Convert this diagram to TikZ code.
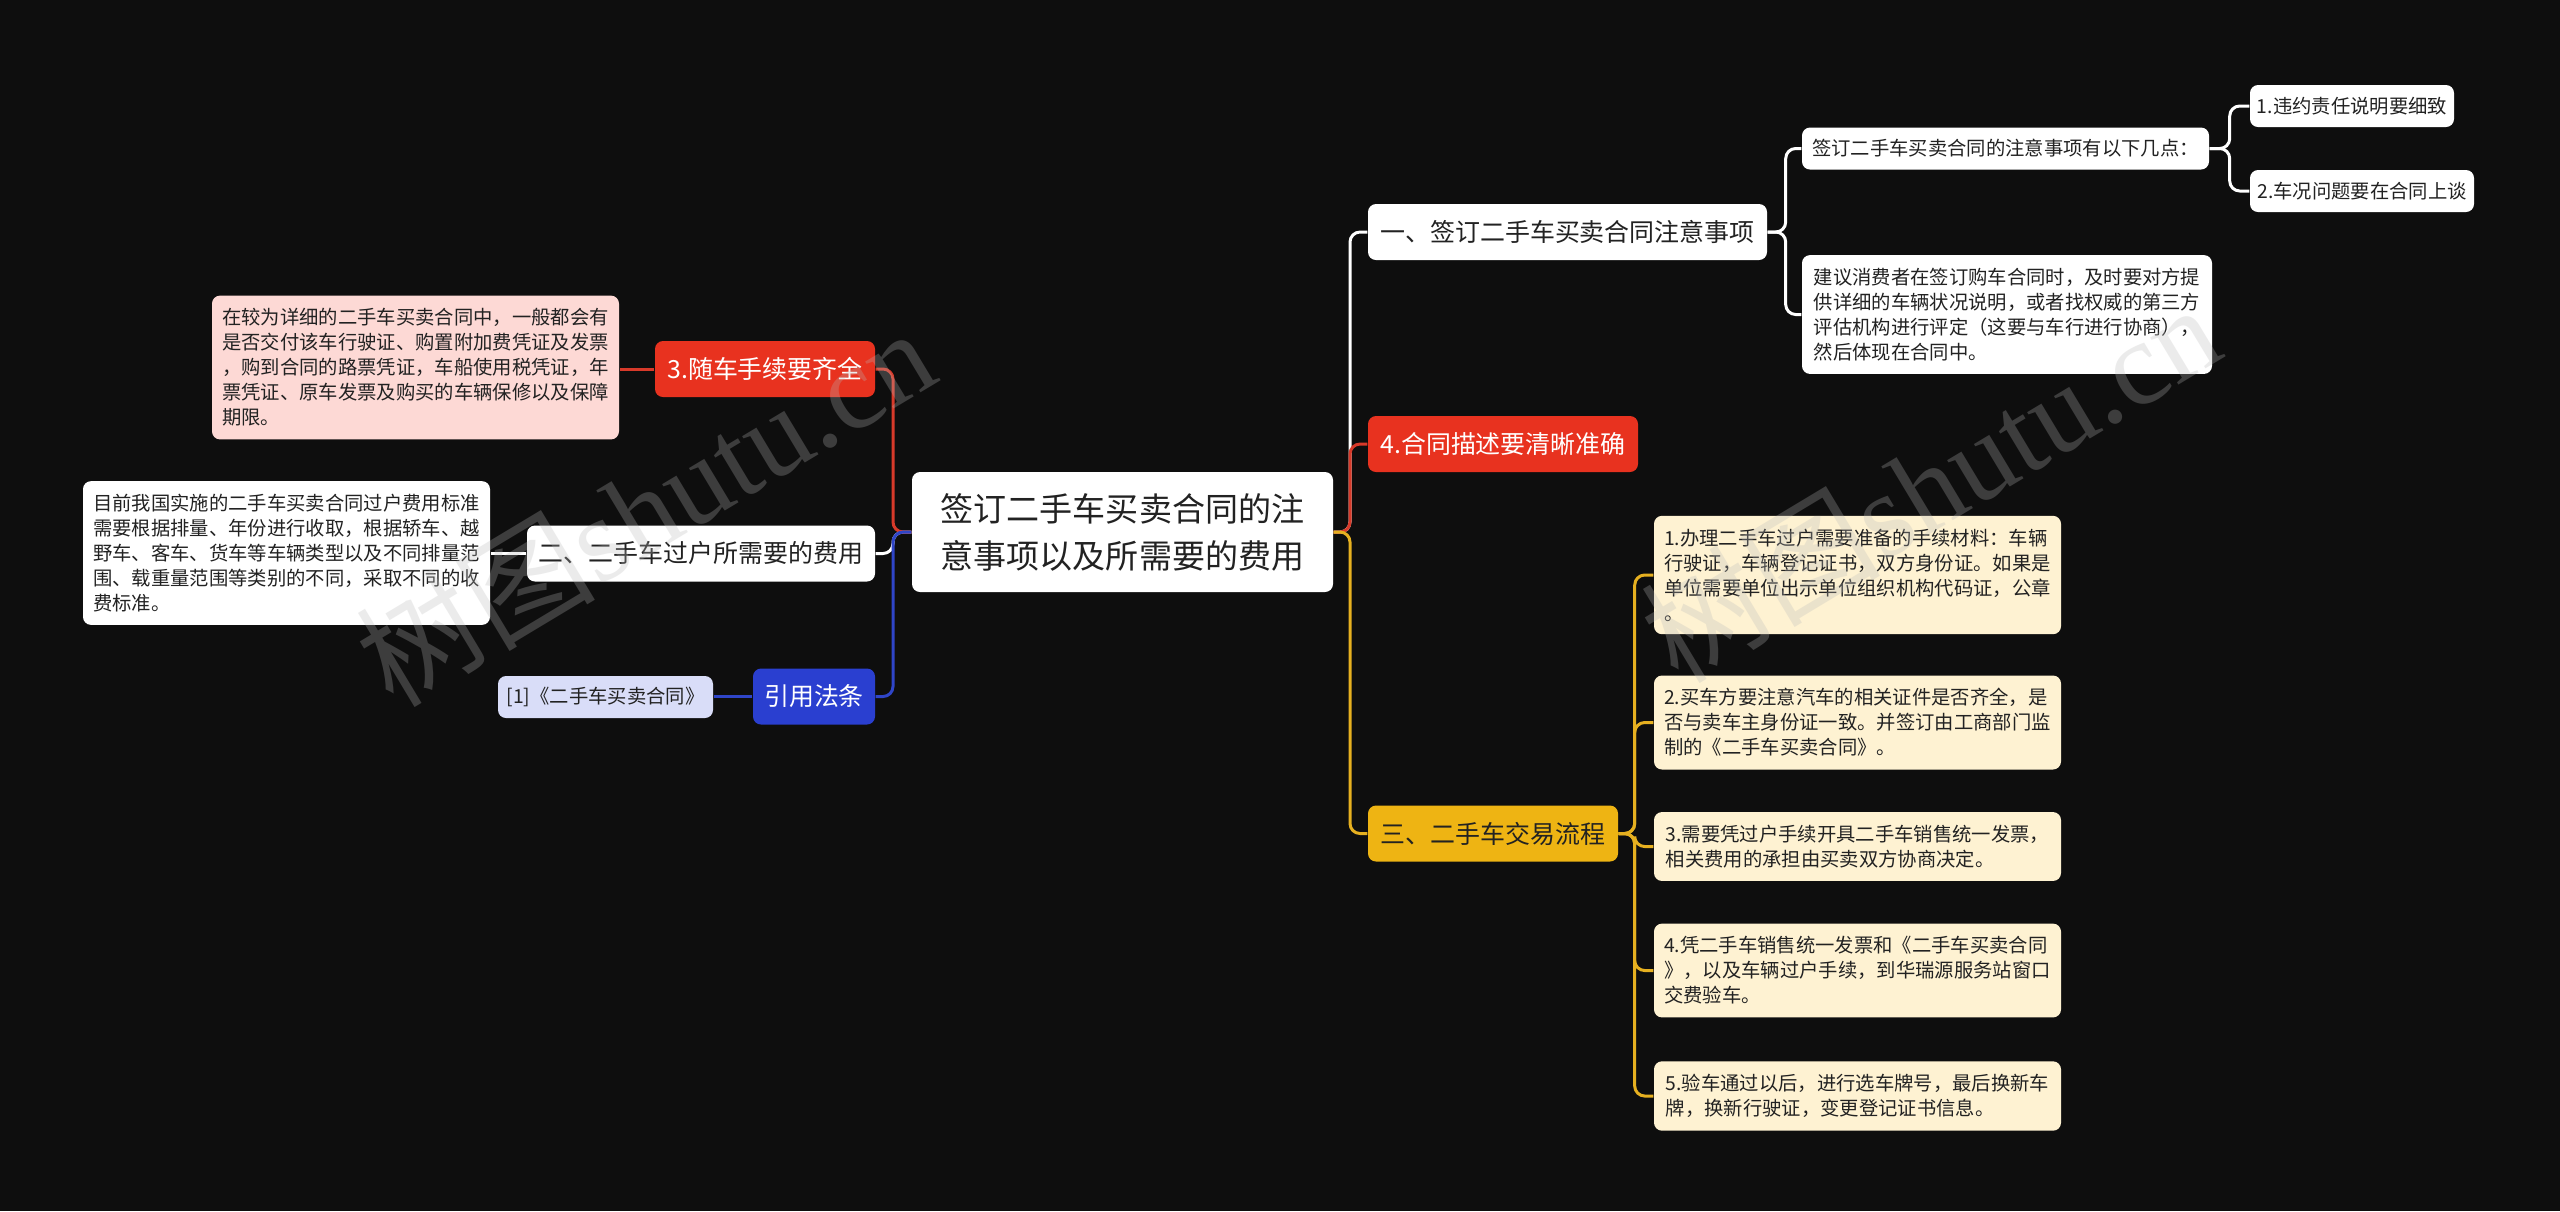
\documentclass[tikz,border=0pt]{standalone}
\usepackage{fontspec}
\setmainfont{Noto Sans CJK SC}
\newfontfamily\markfont{Liberation Serif}
\usetikzlibrary{positioning, calc}
\definecolor{canvas}{HTML}{0E0E0E}
\definecolor{ink}{HTML}{222222}
\definecolor{redhead}{HTML}{E8321F}
\definecolor{redline}{HTML}{D83A2A}
\definecolor{bluehead}{HTML}{2A3FD0}
\definecolor{blueline}{HTML}{2F45C8}
\definecolor{goldhead}{HTML}{EEB413}
\definecolor{goldline}{HTML}{E6B020}
\definecolor{pinknote}{HTML}{FDD9D5}
\definecolor{creamnote}{HTML}{FEF2D2}
\definecolor{lavnote}{HTML}{D9DDF8}
\tikzset{
  font=\fontsize{5.5pt}{7.1pt}\selectfont,
  %
  root/.style={
    fill=white, rounded corners=0.8mm, text=ink, align=center,
    font=\fontsize{9.4pt}{13.4pt}\selectfont,
    minimum width=4.21cm, minimum height=1.2cm, inner sep=0pt,
  },
  topic/.style={fill=white, rounded corners=0.8mm, text=ink, inner sep=0pt,
                font=\fontsize{7.1pt}{8.5pt}\selectfont, minimum height=5.6mm},
  topicr/.style={topic, fill=redhead, text=white},
  topicb/.style={topic, fill=bluehead, text=white},
  topicy/.style={topic, fill=goldhead},
  %
  note/.style={fill=white, rounded corners=0.8mm, text=ink, align=left,
               minimum width=4.07cm, inner xsep=0pt, inner ysep=1.3mm},
  notep/.style={note, fill=pinknote},
  notey/.style={note, fill=creamnote},
  leaf/.style={fill=white, rounded corners=0.8mm, text=ink,
               minimum height=4.2mm, inner sep=0pt},
  leafl/.style={leaf, fill=lavnote},
  %
  link/.style={draw=white, line width=0.85pt, rounded corners=1mm},
  linkr/.style={link, draw=redline},
  linkb/.style={link, draw=blueline},
  linky/.style={link, draw=goldline},
  %
  wmark/.style={text=gray!55, opacity=0.28, rotate=31,
                font=\fontsize{34pt}{34pt}\selectfont},
}
\begin{document}
\begin{tikzpicture}[x=1cm, y=1cm]

\fill[canvas] (0,0) rectangle (25.6,-12.11);

\node[root] (root) at (11.225,-5.32) {签订二手车买卖合同的注\\意事项以及所需要的费用};

% =========================================================================
% left side
\node[topicr, minimum width=2.20cm] (gear) at (7.65,-3.69) {3.随车手续要齐全};
\node[topic, minimum width=3.48cm] (fee) at (7.01,-5.535) {二、二手车过户所需要的费用};
\node[topicb, minimum width=1.22cm] (law) at (8.14,-6.965) {引用法条};

\node[notep] (gearnote) at (4.155,-3.675)
  {在较为详细的二手车买卖合同中，一般都会有\\是否交付该车行驶证、购置附加费凭证及发票\\，购到合同的路票凭证，车船使用税凭证，年\\票凭证、原车发票及购买的车辆保修以及保障\\期限。};
\node[note] (feenote) at (2.865,-5.53)
  {目前我国实施的二手车买卖合同过户费用标准\\需要根据排量、年份进行收取，根据轿车、越\\野车、客车、货车等车辆类型以及不同排量范\\围、载重量范围等类别的不同，采取不同的收\\费标准。};
\node[leafl, minimum width=2.15cm] (lawref) at (6.055,-6.97) {[1]《二手车买卖合同》};

\coordinate (lj) at (8.93,-5.32);
\draw[link] (root.west) -- (lj) |- (fee.east);
\draw[linkr] (root.west) -- (lj) |- (gear.east);
\draw[linkb] (root.west) -- (lj) |- (law.east);

\draw[linkr] (gear.west) -- (gear.west -| gearnote.east);
\draw[link] (fee.west) -- (fee.west -| feenote.east);
\draw[linkb] (law.west) -- (law.west -| lawref.east);

% =========================================================================
% right side
\node[topic, minimum width=3.99cm] (sign) at (15.675,-2.32) {一、签订二手车买卖合同注意事项};
\node[topicr, minimum width=2.70cm] (desc) at (15.03,-4.44) {4.合同描述要清晰准确};
\node[topicy, minimum width=2.50cm] (deal) at (14.93,-8.335) {三、二手车交易流程};

\node[leaf, minimum width=4.07cm] (points) at (20.055,-1.485) {签订二手车买卖合同的注意事项有以下几点：};
\node[note, minimum width=4.10cm] (advice) at (20.07,-3.145)
  {建议消费者在签订购车合同时，及时要对方提\\供详细的车辆状况说明，或者找权威的第三方\\评估机构进行评定（这要与车行进行协商），\\然后体现在合同中。};
\node[leaf, minimum width=2.04cm] (pointa) at (23.52,-1.06) {1.违约责任说明要细致};
\node[leaf, minimum width=2.24cm] (pointb) at (23.62,-1.91) {2.车况问题要在合同上谈};

\node[notey] (proca) at (18.575,-5.75)
  {1.办理二手车过户需要准备的手续材料：车辆\\行驶证，车辆登记证书，双方身份证。如果是\\单位需要单位出示单位组织机构代码证，公章\\。};
\node[notey] (procb) at (18.575,-7.225)
  {2.买车方要注意汽车的相关证件是否齐全，是\\否与卖车主身份证一致。并签订由工商部门监\\制的《二手车买卖合同》。};
\node[notey] (procc) at (18.575,-8.465)
  {3.需要凭过户手续开具二手车销售统一发票，\\相关费用的承担由买卖双方协商决定。};
\node[notey] (procd) at (18.575,-9.705)
  {4.凭二手车销售统一发票和《二手车买卖合同\\》，以及车辆过户手续，到华瑞源服务站窗口\\交费验车。};
\node[notey] (proce) at (18.575,-10.96)
  {5.验车通过以后，进行选车牌号，最后换新车\\牌，换新行驶证，变更登记证书信息。};

\coordinate (rj) at (13.50,-5.32);
\draw[link] (root.east) -- (rj) |- (sign.west);
\draw[linkr] (root.east) -- (rj) |- (desc.west);
\draw[linky] (root.east) -- (rj) |- (deal.west);

\coordinate (sj) at ($(sign.east)+(0.18,0)$);
\draw[link] (sign.east) -- (sj) |- (points.west);
\draw[link] (sign.east) -- (sj) |- (advice.west);

\coordinate (pj) at ($(points.east)+(0.20,0)$);
\draw[link] (points.east) -- (pj) |- (pointa.west);
\draw[link] (points.east) -- (pj) |- (pointb.west);

\coordinate (dj) at ($(deal.east)+(0.16,0)$);
\foreach \n in {proca, procb, procc, procd, proce}
  \draw[linky] (deal.east) -- (dj) |- (\n.west);

% watermark
\node[wmark] (wml) at (6.45,-5.06) {树图{\markfont shutu.cn}};
\node[wmark] (wmr) at (19.30,-4.82) {树图{\markfont shutu.cn}};

\end{tikzpicture}
\end{document}
